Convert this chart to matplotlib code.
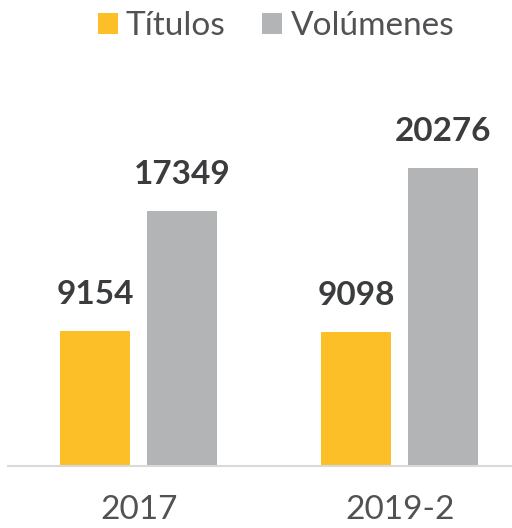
import matplotlib.pyplot as plt
import numpy as np

categorias = ['2017', '2019-2']
titulos = [9154, 9098]
volumenes = [17349, 20276]

color_titulos = '#FDBF28'
color_volumenes = '#B2B4B5'
color_texto = '#505254'

plt.rcParams['font.family'] = ['Lato', 'DejaVu Sans']

fig = plt.figure(figsize=(5.12, 5.28), dpi=100)
ax = fig.add_axes([8 / 512, 1 - 466 / 528, 504 / 512, 367.5 / 528])

x = np.arange(len(categorias))
ancho = 0.268
b1 = ax.bar(x - 0.1686, titulos, ancho, color=color_titulos, label='Títulos')
b2 = ax.bar(x + 0.165, volumenes, ancho, color=color_volumenes, label='Volúmenes')

for barras in (b1, b2):
    for rect in barras:
        ax.annotate(f'{int(rect.get_height())}',
                    (rect.get_x() + rect.get_width() / 2, rect.get_height()),
                    xytext=(0, 16), textcoords='offset points',
                    ha='center', va='bottom', fontsize=24, fontweight='bold',
                    color='#3a3c3e')

ax.set_xlim(-0.502, 1.429)
ax.set_ylim(0, 25000)
ax.set_xticks(x)
ax.set_xticklabels(categorias, fontsize=24, color=color_texto)
ax.tick_params(axis='x', length=0, pad=21)
ax.set_yticks([])
for s in ['top', 'right', 'left']:
    ax.spines[s].set_visible(False)
ax.spines['bottom'].set_color('#d9d9d9')
ax.spines['bottom'].set_linewidth(1.5)

leg = fig.legend(loc='center', bbox_to_anchor=(276 / 512, 1 - 26 / 528), ncol=2,
                 frameon=False, handlelength=0.6, handleheight=0.6,
                 handletextpad=0.25, columnspacing=1.1, borderaxespad=0,
                 prop={'size': 24})
for t in leg.get_texts():
    t.set_color(color_texto)

fig.savefig('out.png', dpi=100)
